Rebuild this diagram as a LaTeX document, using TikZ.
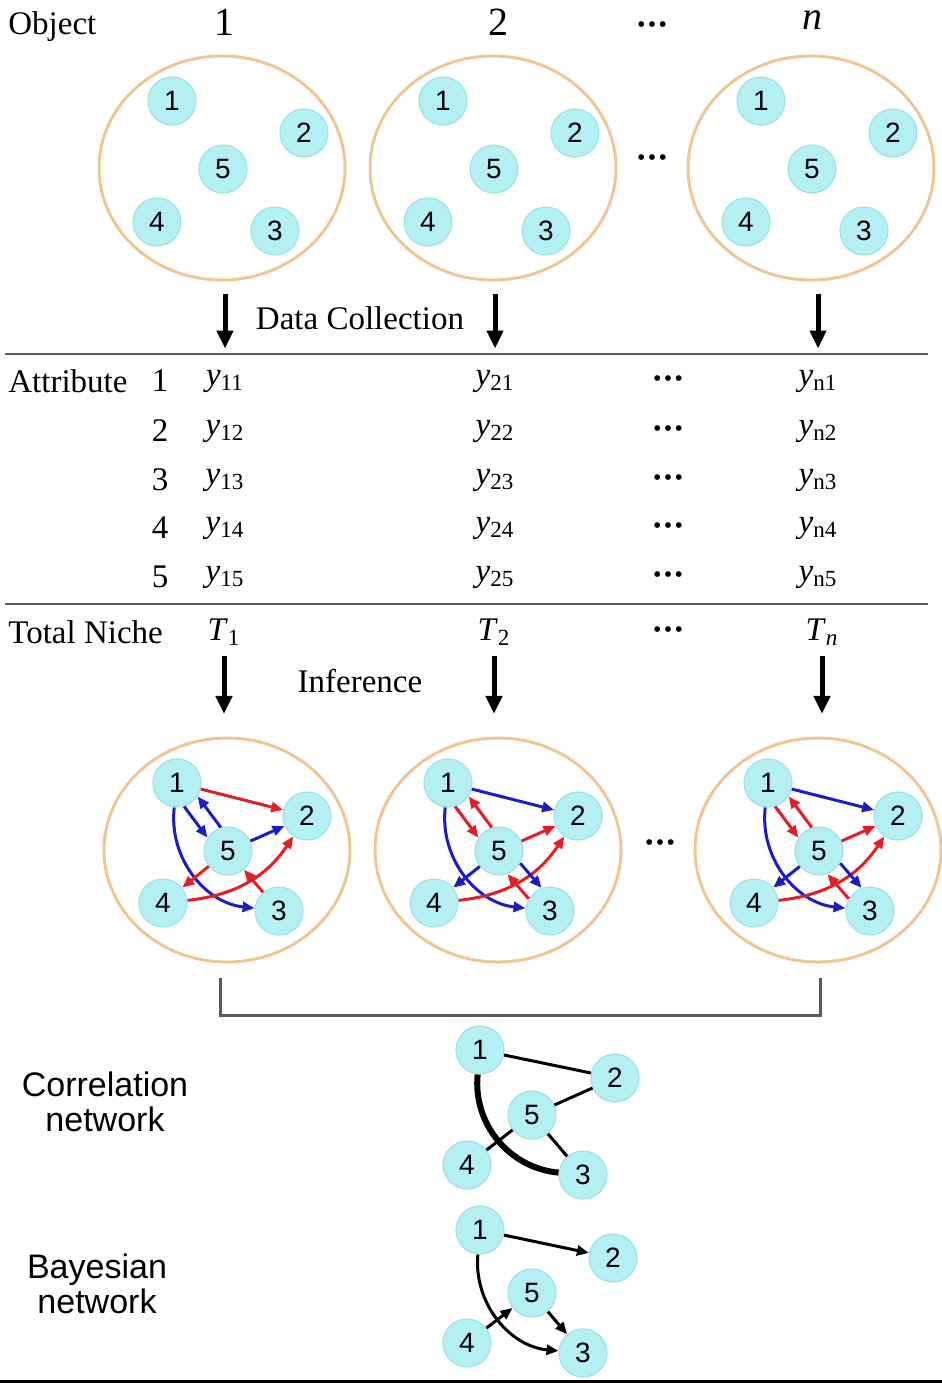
\documentclass[tikz,border=0pt]{standalone}
\usepackage{fontspec}
\setmainfont{Liberation Serif}
\setsansfont{Liberation Sans}
\usetikzlibrary{arrows.meta,shapes.geometric}
\definecolor{ringc}{RGB}{238,200,148}
\definecolor{ballc}{RGB}{180,240,242}
\definecolor{ballrim}{RGB}{158,226,232}
\definecolor{rulec}{RGB}{90,90,90}
\definecolor{infred}{RGB}{228,30,36}
\definecolor{infblue}{RGB}{28,28,200}
\newcommand{\ysub}[1]{\textit{y}\textsubscript{#1}}
\newcommand{\tridots}{{\fontsize{12}{12}\selectfont\textbullet\kern1.2pt\textbullet\kern1.2pt\textbullet}}
\tikzset{
  ring/.style={ellipse, draw=ringc, line width=1.5pt, minimum width=123pt, minimum height=112pt, inner sep=0pt},
  ball/.style={circle, fill=ballc, draw=ballrim, line width=0.6pt, minimum size=24pt, inner sep=0pt, font=\sffamily\fontsize{14}{14}\selectfont},
  lbl/.style={font=\fontsize{16.5}{20}\selectfont, inner sep=1pt},
  big/.style={font=\fontsize{20}{24}\selectfont, inner sep=1pt},
  side/.style={align=center, font=\sffamily\fontsize{17}{17.5}\selectfont},
  downarr/.style={line width=2.5pt, -{Triangle[length=9pt,width=8pt]}},
  inf/.style={line width=1.5pt, -{Triangle[length=6pt,width=5pt]}},
  plain/.style={line width=1.5pt},
  bay/.style={line width=1.5pt, -{Triangle[length=6pt,width=5pt]}},
  rule/.style={draw=rulec, line width=1.2pt},
}
\begin{document}
\begin{tikzpicture}[x=0.5pt,y=-0.5pt]
\useasboundingbox (0,0) rectangle (942,1383);

% header
\node[lbl,anchor=west] (objlbl) at (6,27) {Object};
\node[big] (h1) at (224,22) {1};
\node[big] (h2) at (498,22) {2};
\node[lbl] (hdots) at (652,27) {\tridots};
\node[big] (hn) at (812,20) {\textit{n}};

% objects
\foreach \i/\cx in {1/222,2/493,3/811} {
  \node[ring] (obj\i) at (\cx,168) {};
  \foreach \k/\dx/\dy in {1/-50/-67,2/82/-35,5/1/1,4/-65/54,3/53/63}
    \node[ball] (t\i-\k) at (\cx+\dx,168+\dy) {\k};
}
\node[lbl] (odots) at (652,160) {\tridots};
\node[lbl] (dcol) at (360,318) {Data Collection};

% table
\draw[rule] (5,354) -- (928,354);
\node[lbl,anchor=west] (attr) at (6,381) {Attribute};
\foreach \r/\yy in {1/381,2/431,3/480,4/528,5/577} {
  \node[lbl] (r\r) at (160,\yy) {\r};
  \node[lbl] (y1-\r) at (225,\yy) {\ysub{1\r}};
  \node[lbl] (y2-\r) at (495,\yy) {\ysub{2\r}};
  \node[lbl] (yd-\r) at (668,\yy) {\tridots};
  \node[lbl] (y3-\r) at (818,\yy) {\ysub{n\r}};
}
\draw[rule] (5,604) -- (928,604);
\node[lbl,anchor=west] (total) at (6,632) {Total Niche};
\node[lbl] (tt1) at (224,632) {\textit{T}\textsubscript{1}};
\node[lbl] (tt2) at (494,632) {\textit{T}\textsubscript{2}};
\node[lbl] (ttd) at (668,632) {\tridots};
\node[lbl] (tt3) at (822,632) {\textit{T}\textsubscript{\textit{n}}};

\foreach \i in {1,2,3}
  \draw[downarr] (obj\i.south -| y\i-1) ++(0,12) -- ++(0,55);
\foreach \i in {1,2,3}
  \draw[downarr] (tt\i.south) ++(0,8) -- ++(0,58);
\node[lbl] (infer) at (360,681) {Inference};

% inferred networks
\foreach \i/\cx in {1/227,2/498,3/818} {
  \node[ring] (inf\i) at (\cx,850) {};
  \foreach \k/\dx/\dy in {1/-50/-67,2/80/-34,5/1/1,4/-64/53,3/52/61}
    \node[ball] (b\i-\k) at (\cx+\dx,850+\dy) {\k};
}
\node[lbl] (idots) at (660,845) {\tridots};

\draw[inf,infred] (b1-1) -- (b1-2);
\draw[inf,infblue] (b1-1.-73) -- (b1-5.147);
\draw[inf,infblue] (b1-5.107) -- (b1-1.-33);
\draw[inf,infblue] (b1-5) -- (b1-2);
\draw[inf,infblue] (b1-1) to[bend right=45] (b1-3);
\draw[inf,infred] (b1-4) to[bend right=25] (b1-2);
\draw[inf,infred] (b1-5) -- (b1-4);
\draw[inf,infred] (b1-3) -- (b1-5);

\foreach \i in {2,3} {
  \draw[inf,infblue] (b\i-1) -- (b\i-2);
  \draw[inf,infred] (b\i-1.-73) -- (b\i-5.147);
  \draw[inf,infred] (b\i-5.107) -- (b\i-1.-33);
  \draw[inf,infred] (b\i-5) -- (b\i-2);
  \draw[inf,infblue] (b\i-1) to[bend right=45] (b\i-3);
  \draw[inf,infred] (b\i-4) to[bend right=25] (b\i-2);
  \draw[inf,infblue] (b\i-5) -- (b\i-4);
  \draw[inf,infblue] (b\i-5.-30) -- (b\i-3.110);
  \draw[inf,infred] (b\i-3.150) -- (b\i-5.-70);
}

\draw[line width=1.5pt, draw=rulec] (inf1.south) ++(-7,14) -- ++(0,38) -| ([xshift=1pt,yshift=-7pt]inf3.south);

% correlation network
\node[side] (corr) at (105,1102) {Correlation\\network};
\foreach \k/\px/\py in {1/480/1050,2/615/1078,5/532/1115,4/467/1165,3/583/1175}
  \node[ball] (c\k) at (\px,\py) {\k};
\draw[plain] (c1) -- (c2);
\draw[plain] (c5) -- (c2);
\draw[plain] (c5) -- (c4);
\draw[plain] (c5) -- (c3);
\draw[line width=3pt] (c1) to[bend right=45] (c3);

% bayesian network
\node[side] (bayes) at (97,1284) {Bayesian\\network};
\foreach \k/\px/\py in {1/480/1230,2/613/1258,5/532/1293,4/467/1343,3/583/1353}
  \node[ball] (n\k) at (\px,\py) {\k};
\draw[bay] (n1) -- (n2);
\draw[bay] (n4) -- (n5);
\draw[bay] (n5) -- (n3);
\draw[bay] (n1) to[bend right=45] (n3);

\draw[line width=1.5pt] (0,1381) -- (942,1381);
\end{tikzpicture}
\end{document}
